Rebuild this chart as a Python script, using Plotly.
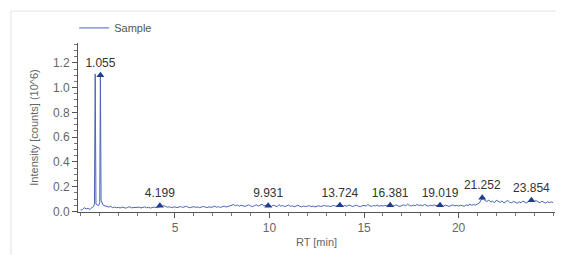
import plotly.graph_objects as go

# ---- data ----
rt_head = [0.0, 0.1, 0.2, 0.3, 0.4, 0.5, 0.6, 0.7, 0.74, 0.78, 0.82, 0.9, 0.96,
           1.02, 1.055, 1.09, 1.15, 1.2, 1.3, 1.4, 1.5, 1.6, 1.7, 1.8, 1.9]
int_head = [0.01, 0.015, 0.03, 0.02, 0.025, 0.015, 0.03, 0.04, 0.06, 1.11, 0.06, 0.05, 0.045,
            0.07, 1.11, 0.09, 0.06, 0.05, 0.045, 0.04, 0.035, 0.04, 0.03, 0.035, 0.03]

int_tail = [
    0.032, 0.028, 0.035, 0.030, 0.026, 0.033, 0.037, 0.029, 0.031, 0.027,  # 2
    0.030, 0.034, 0.028, 0.032, 0.036, 0.029, 0.033, 0.027, 0.031, 0.035,  # 3
    0.030, 0.033, 0.038, 0.044, 0.046, 0.040, 0.034, 0.037, 0.031, 0.034,  # 4
    0.036, 0.030, 0.034, 0.039, 0.032, 0.036, 0.041, 0.033, 0.029, 0.035,  # 5
    0.038, 0.032, 0.036, 0.030, 0.035, 0.040, 0.034, 0.031, 0.037, 0.033,  # 6
    0.036, 0.041, 0.034, 0.038, 0.032, 0.037, 0.043, 0.035, 0.039, 0.044,  # 7
    0.048, 0.055, 0.046, 0.052, 0.042, 0.050, 0.045, 0.040, 0.047, 0.053,  # 8
    0.044, 0.038, 0.046, 0.054, 0.043, 0.049, 0.058, 0.045, 0.048, 0.052,  # 9
    0.046, 0.041, 0.050, 0.043, 0.038, 0.055, 0.042, 0.047, 0.039, 0.044,  # 10
    0.052, 0.040, 0.046, 0.037, 0.043, 0.049, 0.041, 0.036, 0.044, 0.039,  # 11
    0.042, 0.047, 0.038, 0.044, 0.036, 0.041, 0.046, 0.039, 0.043, 0.048,  # 12
    0.041, 0.045, 0.039, 0.044, 0.048, 0.042, 0.046, 0.055, 0.050, 0.043,  # 13
    0.047, 0.041, 0.052, 0.044, 0.039, 0.046, 0.050, 0.042, 0.038, 0.045,  # 14
    0.049, 0.043, 0.055, 0.046, 0.040, 0.048, 0.044, 0.051, 0.041, 0.047,  # 15
    0.043, 0.050, 0.045, 0.054, 0.049, 0.041, 0.046, 0.052, 0.044, 0.040,  # 16
    0.047, 0.053, 0.045, 0.058, 0.049, 0.043, 0.051, 0.046, 0.055, 0.048,  # 17
    0.052, 0.045, 0.056, 0.047, 0.042, 0.050, 0.044, 0.053, 0.046, 0.049,  # 18
    0.055, 0.048, 0.043, 0.051, 0.046, 0.040, 0.047, 0.052, 0.044, 0.049,  # 19
    0.043, 0.050, 0.046, 0.041, 0.053, 0.047, 0.058, 0.049, 0.055, 0.051,  # 20
    0.060, 0.068, 0.095, 0.102, 0.088, 0.080, 0.092, 0.075, 0.083, 0.070,  # 21
    0.090, 0.078, 0.072, 0.085, 0.067, 0.079, 0.088, 0.074, 0.069, 0.081,  # 22
    0.073, 0.066, 0.077, 0.070, 0.083, 0.075, 0.068, 0.079, 0.085, 0.092,  # 23
    0.080, 0.088, 0.076, 0.070, 0.082, 0.074, 0.067, 0.078, 0.071, 0.076,  # 24
    0.072,                                                                  # 25
]
rt_tail = [round(2.0 + 0.1 * i, 1) for i in range(len(int_tail))]

rt = rt_head + rt_tail
intensity = int_head + int_tail

peak_rt = [1.055, 4.199, 9.931, 13.724, 16.381, 19.019, 21.252, 23.854]
peak_int = [1.10, 0.045, 0.045, 0.05, 0.05, 0.05, 0.11, 0.09]
peak_labels = ["1.055", "4.199", "9.931", "13.724", "16.381", "19.019", "21.252", "23.854"]

# ---- figure ----
fig = go.Figure()
fig.add_trace(go.Scatter(
    x=rt, y=intensity, mode="lines", name="Sample",
    line=dict(color="#4a66b4", width=1),
))
fig.add_trace(go.Scatter(
    x=peak_rt, y=peak_int, mode="markers+text", showlegend=False,
    text=peak_labels, textposition="top center",
    textfont=dict(family="Liberation Sans, Arial", size=12, color="#333333"),
    marker=dict(symbol="triangle-up", size=7, color="#1f3c8f"),
    cliponaxis=False,
))

axis_font = dict(family="Liberation Sans, Arial", size=12, color="#666666")

fig.update_layout(
    width=556, height=247,
    margin=dict(l=70, r=9, t=35, b=43, autoexpand=False),
    paper_bgcolor="white", plot_bgcolor="white",
    showlegend=True,
    legend=dict(x=-0.008, y=1.175, xanchor="left", yanchor="top",
                font=dict(family="Liberation Sans, Arial", size=11, color="#555555"),
                bgcolor="rgba(0,0,0,0)"),
    shapes=[dict(type="rect", xref="paper", yref="paper",
                 x0=-0.1405, x1=1.05, y0=-0.35, y1=1.189,
                 line=dict(color="#e2e2e2", width=1), layer="below")],
)
fig.update_xaxes(
    range=[-0.13, 25.1], tickvals=[5, 10, 15, 20], ticks="outside", ticklen=5,
    tickcolor="#555555", showline=True, linecolor="#555555", linewidth=1,
    showgrid=False, zeroline=False, tickfont=axis_font, automargin=False,
    minor=dict(dtick=1, tick0=0, ticks="outside", ticklen=3, tickcolor="#777777"),
    title=dict(text="RT [min]", font=dict(family="Liberation Sans, Arial", size=11, color="#666666"), standoff=3),
)
fig.update_yaxes(
    range=[-0.005, 1.36], tickvals=[0, 0.2, 0.4, 0.6, 0.8, 1.0, 1.2],
    tickformat=".1f", ticks="outside", ticklen=5,
    tickcolor="#555555", showline=True, linecolor="#555555", linewidth=1,
    showgrid=False, zeroline=False, tickfont=axis_font, automargin=False,
    minor=dict(dtick=0.05, tick0=0, ticks="outside", ticklen=3, tickcolor="#777777"),
    title=dict(text="Intensity [counts] (10^6)", font=dict(family="Liberation Sans, Arial", size=11, color="#666666"), standoff=12),
)

fig.write_html("out.html")
